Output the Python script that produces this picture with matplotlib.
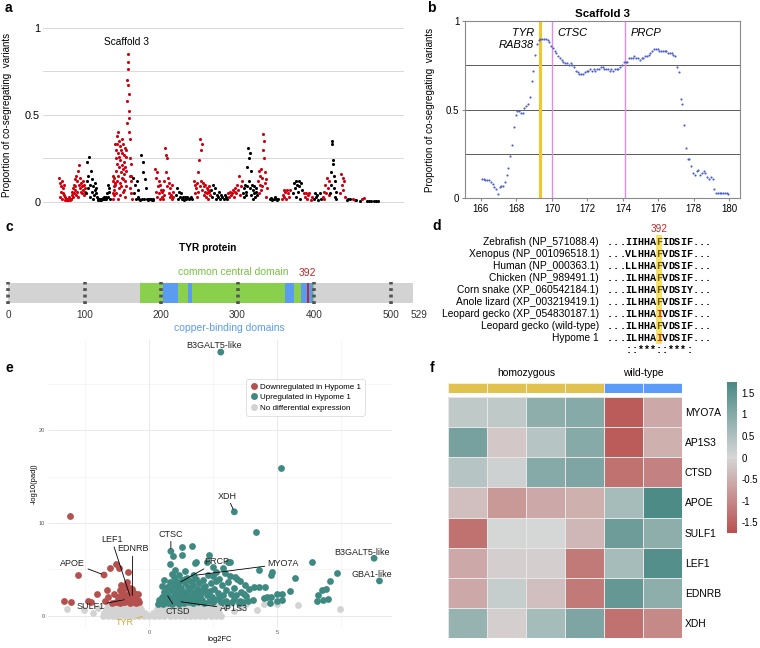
import numpy as np
import matplotlib
matplotlib.use('Agg')
import matplotlib.pyplot as plt
from matplotlib.colors import LinearSegmentedColormap
from matplotlib.lines import Line2D
from matplotlib.patches import Rectangle

plt.rcParams['font.family'] = ['Liberation Sans', 'DejaVu Sans']

W, H = 760, 648
fig = plt.figure(figsize=(7.6, 6.48), dpi=100)


def rect(x0, y0, x1, y1):
    return [x0 / W, 1 - y1 / H, (x1 - x0) / W, (y1 - y0) / H]


# ---------------------------------------------------------------- DATA
# (a) genome-wide scan: scaffold spans (cumulative position) and window values
scaf_start = [178, 258, 338, 400, 465, 528, 583, 633, 685, 730, 775, 810,
              845, 880, 912, 942, 968, 990, 1020, 1040, 1058, 1068, 1085, 1100]
scaf_end = [255, 330, 395, 460, 520, 575, 630, 680, 725, 770, 800, 835,
            870, 905, 935, 962, 988, 1008, 1035, 1050, 1065, 1080, 1092, 1135]
scaf_vals = [
    [0.14, 0.03, 0.11, 0.06, 0.09, 0.02, 0.12, 0.05, 0.08, 0.04, 0.10, 0.01,
     0.03, 0.02, 0.01, 0.02, 0.015, 0.01, 0.02, 0.01, 0.02, 0.03, 0.02, 0.01, 0.02, 0.015,
     0.04, 0.06, 0.03, 0.08, 0.05, 0.10, 0.07, 0.13, 0.09, 0.15, 0.04, 0.06, 0.12, 0.03,
     0.18, 0.10, 0.21, 0.08, 0.14, 0.11, 0.06, 0.09, 0.05, 0.12, 0.07, 0.04, 0.10, 0.06, 0.08],
    [0.05, 0.12, 0.23, 0.08, 0.15, 0.26, 0.03, 0.10, 0.18, 0.06, 0.13, 0.02, 0.09, 0.04, 0.07,
     0.11, 0.05, 0.08, 0.03,
     0.02, 0.01, 0.02, 0.01, 0.015, 0.02, 0.01, 0.02, 0.025, 0.02, 0.03, 0.02, 0.02, 0.03, 0.02,
     0.05, 0.10, 0.03, 0.08, 0.06, 0.02],
    [0.15, 0.05, 0.12, 0.02, 0.09, 0.14, 0.07, 0.04, 0.11,
     0.33, 0.10, 0.25, 0.05, 0.30, 0.18, 0.38, 0.12, 0.22, 0.33, 0.02, 0.28, 0.15, 0.40, 0.08,
     0.20, 0.35, 0.26, 0.11, 0.32, 0.04, 0.24, 0.17, 0.30, 0.09, 0.36, 0.21, 0.14, 0.28, 0.06,
     0.33, 0.19, 0.13, 0.27, 0.07, 0.23, 0.16, 0.31, 0.03, 0.20, 0.12, 0.26, 0.09, 0.18,
     0.30, 0.45, 0.58, 0.70, 0.85, 0.80, 0.76, 0.67, 0.62, 0.52, 0.48, 0.40, 0.36,
     0.25, 0.15, 0.08, 0.22, 0.12, 0.05, 0.15, 0.02],
    [0.14, 0.05, 0.10, 0.02, 0.12, 0.07, 0.03, 0.02, 0.01, 0.27, 0.02, 0.23, 0.17, 0.02, 0.13,
     0.08, 0.02, 0.01, 0.02, 0.02, 0.015, 0.02, 0.01, 0.02, 0.01],
    [0.19, 0.06, 0.14, 0.03, 0.17, 0.09, 0.12, 0.05, 0.10, 0.02, 0.07, 0.03, 0.06, 0.02, 0.07, 0.04,
     0.12, 0.31, 0.17, 0.27, 0.09, 0.25, 0.14, 0.05, 0.11, 0.03, 0.08, 0.04, 0.10, 0.02, 0.06, 0.03],
    [0.04, 0.08, 0.02, 0.06, 0.03, 0.05, 0.02, 0.03, 0.01, 0.03, 0.02, 0.03, 0.02, 0.025, 0.03, 0.02],
    [0.12, 0.05, 0.10, 0.08, 0.03, 0.11, 0.17, 0.06, 0.24, 0.09, 0.36, 0.12, 0.30, 0.33, 0.07,
     0.11, 0.04, 0.09, 0.06, 0.10, 0.03, 0.08, 0.05, 0.07, 0.02, 0.06, 0.09, 0.04],
    [0.07, 0.03, 0.10, 0.05, 0.08, 0.02, 0.04, 0.03, 0.06, 0.02, 0.04, 0.03, 0.02, 0.04, 0.03, 0.02],
    [0.05, 0.03, 0.06, 0.04, 0.05, 0.07, 0.03, 0.06, 0.08, 0.05, 0.10, 0.07, 0.15, 0.04, 0.09, 0.12],
    [0.05, 0.08, 0.03, 0.10, 0.06, 0.04, 0.09, 0.20, 0.31, 0.12, 0.25, 0.28, 0.08, 0.18, 0.04,
     0.10, 0.07, 0.02, 0.05, 0.09, 0.03, 0.06, 0.08, 0.04],
    [0.12, 0.18, 0.05, 0.15, 0.10, 0.19, 0.07, 0.14, 0.09, 0.39, 0.30, 0.35, 0.25, 0.17, 0.11,
     0.13, 0.03, 0.08],
    [0.02, 0.025, 0.01, 0.02, 0.03, 0.02, 0.01, 0.02],
    [0.02, 0.04, 0.07, 0.03, 0.06, 0.02, 0.07, 0.05, 0.03, 0.07],
    [0.05, 0.11, 0.08, 0.12, 0.03, 0.10, 0.06, 0.12, 0.09, 0.02, 0.11, 0.07],
    [0.05, 0.03, 0.05, 0.02, 0.04, 0.05, 0.01, 0.03],
    [0.02, 0.05, 0.03, 0.04, 0.01, 0.05, 0.02],
    [0.03, 0.06, 0.02, 0.10, 0.05, 0.14, 0.08, 0.12, 0.04],
    [0.05, 0.10, 0.17, 0.33, 0.35, 0.24, 0.22, 0.15, 0.08, 0.12, 0.03, 0.06, 0.02],
    [0.05, 0.16, 0.10, 0.14, 0.07, 0.12, 0.03],
    [0.01, 0.02, 0.015],
    [0.02, 0.01],
    [0.01, 0.005],
    [0.02, 0.025],
    [0.005, 0.005, 0.005, 0.005, 0.005, 0.005],
]

# (b) scaffold 3 windows (Mb) and proportion
s3_pos = [166.05, 166.15, 166.25, 166.35, 166.45, 166.55, 166.65, 166.75, 166.85, 166.95,
          167.05, 167.15, 167.25, 167.35, 167.45, 167.55, 167.65, 167.75, 167.85, 167.95,
          168.05, 168.15, 168.25, 168.35, 168.45, 168.55, 168.65, 168.75, 168.85, 168.95,
          169.05, 169.15, 169.25, 169.35, 169.45, 169.55, 169.65, 169.75, 169.85, 169.95,
          170.05, 170.15, 170.25, 170.35, 170.45, 170.55, 170.65, 170.75, 170.85, 170.95,
          171.05, 171.15, 171.25, 171.35, 171.45, 171.55, 171.65, 171.75, 171.85, 171.95,
          172.05, 172.15, 172.25, 172.35, 172.45, 172.55, 172.65, 172.75, 172.85, 172.95,
          173.05, 173.15, 173.25, 173.35, 173.45, 173.55, 173.65, 173.75, 173.85, 173.95,
          174.05, 174.15, 174.25, 174.35, 174.45, 174.55, 174.65, 174.75, 174.85, 174.95,
          175.05, 175.15, 175.25, 175.35, 175.45, 175.55, 175.65, 175.75, 175.85, 175.95,
          176.05, 176.15, 176.25, 176.35, 176.45, 176.55, 176.65, 176.75, 176.85, 176.95,
          177.05, 177.15, 177.25, 177.35, 177.45, 177.55, 177.65, 177.75, 177.85, 177.95,
          178.05, 178.15, 178.25, 178.35, 178.45, 178.55, 178.65, 178.75, 178.85, 178.95,
          179.05, 179.15, 179.25, 179.35, 179.45, 179.55, 179.65, 179.75, 179.85, 179.95]
s3_val = [0.11, 0.11, 0.10, 0.10, 0.10, 0.09, 0.08, 0.06, 0.05, 0.02,
          0.06, 0.07, 0.07, 0.09, 0.13, 0.17, 0.24, 0.30, 0.40, 0.47,
          0.49, 0.49, 0.48, 0.48, 0.51, 0.52, 0.53, 0.57, 0.66, 0.72,
          0.81, 0.87, 0.89, 0.90, 0.90, 0.90, 0.90, 0.89, 0.88, 0.86,
          0.85, 0.83, 0.82, 0.80, 0.79, 0.78, 0.77, 0.76, 0.76, 0.75,
          0.76, 0.75, 0.74, 0.72, 0.71, 0.70, 0.70, 0.70, 0.71, 0.72,
          0.72, 0.73, 0.72, 0.73, 0.72, 0.73, 0.73, 0.74, 0.74, 0.73,
          0.73, 0.73, 0.72, 0.73, 0.72, 0.73, 0.73, 0.73, 0.74, 0.75,
          0.77, 0.77, 0.77, 0.79, 0.79, 0.79, 0.80, 0.79, 0.79, 0.78,
          0.79, 0.79, 0.80, 0.80, 0.81, 0.82, 0.83, 0.84, 0.84, 0.84,
          0.83, 0.83, 0.83, 0.83, 0.83, 0.82, 0.82, 0.82, 0.81, 0.80,
          0.74, 0.71, 0.56, 0.53, 0.41, 0.28, 0.22, 0.22, 0.18, 0.14,
          0.13, 0.15, 0.16, 0.13, 0.14, 0.15, 0.14, 0.12, 0.11, 0.12,
          0.11, 0.05, 0.03, 0.03, 0.03, 0.03, 0.03, 0.03, 0.03, 0.02]
gene_marks = ['TYR\nRAB38', 'CTSC', 'PRCP']
gene_mark_pos = [169.33, 169.99, 174.13]

# (c) TYR protein domains (amino-acid positions)
prot_len = 529
central_domain = (173, 400)
copper_domains = [(203, 222), (235, 240), (362, 374), (383, 399)]
mut_site = 392
prot_ticks = [0, 100, 200, 300, 400, 500]

# (d) alignment
aln_names = ['Zebrafish (NP_571088.4)', 'Xenopus (NP_001096518.1)', 'Human (NP_000363.1)',
             'Chicken (NP_989491.1)', 'Corn snake (XP_060542184.1)',
             'Anole lizard (XP_003219419.1)', 'Leopard gecko (XP_054830187.1)',
             'Leopard gecko (wild-type)', 'Hypome 1']
aln_seqs = ['...IIHHAFIDSIF...', '...VLHHAFVDSIF...', '...LLHHAFVDSIF...',
            '...ILHHAFVDSIF...', '...ILHHAFVDSIY...', '...ILHHAFVDSIF...',
            '...ILHHAIVDSIF...', '...ILHHAFVDSIF...', '...ILHHAIVDSIF...']
aln_consensus = '   ::***::***:'
aln_site_col = 8

# (e) volcano plot
down_fc = [-3.09, -3.32, -3.05, -2.77, -2.37, -2.28, -2.04, -1.66, -1.72, -1.52, -1.29, -1.16,
           -0.81, -1.37, -1.13, -1.03, -0.90, -0.81, -0.68, -0.61, -0.48, -1.27, -0.98, -0.74,
           -1.13, -0.87, -1.30, -1.20, -1.15, -1.05, -1.00, -0.95, -0.90, -0.85, -0.80, -0.75,
           -0.70, -0.65, -0.60, -0.55, -0.50, -0.45, -0.42, -0.38, -1.10, -0.85, -0.75, -1.45,
           -1.60, -0.58]
down_padj = [10.7, 1.6, 1.54, 4.4, 1.6, 1.45, 2.3, 2.8, 1.6, 5.2, 5.6, 5.2,
             4.7, 2.3, 2.8, 2.3, 3.2, 1.9, 2.6, 1.9, 1.5, 1.5, 1.5, 1.5,
             2.1, 2.2, 1.5, 2.0, 1.4, 2.6, 1.5, 2.0, 3.0, 1.6, 2.4, 1.4,
             2.1, 2.9, 1.5, 1.9, 1.4, 1.7, 2.3, 1.5, 3.3, 3.6, 3.0, 1.4,
             2.0, 2.5]
up_fc = [5.16, 4.18, 1.28, 1.28, 1.69, 2.34, 0.92, 1.80, 2.25, 2.50, 2.90, 3.16, 2.60, 3.36,
         6.35, 7.33, 7.07, 5.70, 6.90, 6.75, 6.60, 6.80, 7.00, 6.55, 5.50, 5.18, 5.18, 4.98,
         4.78, 4.60, 4.80, 4.30, 4.53, 4.30, 4.10, 3.90, 3.70, 4.47, 4.07, 3.80, 3.55, 3.30,
         3.00, 2.77, 2.38, 2.12, 2.00, 4.73, 5.00, 3.55, 3.16, 2.75, 2.50, 1.84, 1.41, 1.02,
         0.82, 3.10, 4.75,
         0.35, 0.40, 0.45, 0.50, 0.55, 0.60, 0.62, 0.70, 0.72, 0.75, 0.80, 0.82, 0.85, 0.90,
         0.92, 0.95, 0.98, 1.00, 1.02, 1.05, 1.08, 1.10, 1.12, 1.15, 1.18, 1.20, 1.22, 1.25,
         1.30, 1.32, 1.35, 1.38, 1.40, 1.45, 1.48, 1.50, 1.52, 1.55, 1.60, 1.62, 1.65, 1.70,
         1.72, 1.75, 1.80, 1.85, 1.88, 1.90, 1.95, 2.00, 2.05, 2.10, 2.15, 2.20, 2.25, 2.30,
         2.35, 2.40, 2.45, 2.50, 2.55, 2.60, 2.65, 2.70, 2.80, 2.85, 2.90, 2.95, 3.00, 3.05,
         3.10, 3.20, 3.25, 3.30, 3.40, 3.45, 3.50, 3.60, 3.65, 3.75, 3.85, 0.50, 0.65, 0.78,
         0.60, 0.88, 1.60, 2.00, 1.00, 1.40, 1.90, 2.20, 0.70, 1.15]
up_padj = [15.9, 9.0, 7.4, 6.5, 7.5, 6.5, 6.4, 5.7, 5.8, 5.3, 5.2, 5.8, 4.7, 4.2,
           5.77, 4.66, 3.8, 4.1, 2.9, 2.8, 2.2, 1.7, 1.8, 1.6, 2.7, 2.4, 1.7, 2.4,
           2.0, 2.0, 4.7, 4.9, 3.1, 3.1, 3.1, 2.9, 2.4, 1.9, 1.76, 2.1, 1.6, 1.85,
           1.6, 1.97, 2.7, 3.0, 2.1, 1.43, 1.65, 3.8, 4.3, 4.0, 4.3, 5.8, 4.8, 4.9,
           5.6, 5.8, 4.4,
           1.3, 1.7, 1.5, 2.0, 1.3, 2.6, 1.8, 3.1, 1.4, 2.2, 3.6, 1.6, 2.8, 1.3,
           2.0, 3.3, 4.2, 2.5, 1.5, 3.8, 1.9, 2.9, 3.4, 1.3, 4.4, 2.3, 1.7, 3.0,
           3.9, 2.0, 1.4, 2.6, 3.5, 1.8, 4.1, 2.3, 3.1, 1.5, 2.8, 3.7, 2.0, 1.4,
           3.3, 2.5, 1.8, 4.0, 2.9, 1.5, 3.5, 2.4, 1.7, 3.9, 1.4, 3.2, 2.2, 4.4,
           1.6, 3.5, 2.0, 1.5, 2.9, 3.8, 1.8, 2.5, 1.5, 3.3, 2.2, 4.6, 2.8, 1.4,
           3.6, 2.4, 1.5, 3.0, 2.2, 4.0, 1.4, 2.6, 1.5, 3.3, 1.6, 3.2, 2.1, 1.9,
           3.9, 4.5, 3.0, 2.6, 2.3, 4.0, 1.9, 2.7, 1.9, 2.6]
nd_fc = [-1.8, -1.6, -1.4, -1.2, -1.0, -0.8, -0.6, -0.4, -0.2, 0.0, 0.2, 0.4, 0.6, 0.8, 1.0,
         1.2, 1.4, 1.6, 1.8, 2.0, 2.2, 2.4, 2.6, 2.8,
         -1.75, -1.55, -1.35, -1.15, -0.95, -0.75, -0.55, -0.35, -0.15, 0.15, 0.35, 0.55, 0.75,
         0.95, 1.15, 1.35, 1.55, 1.75, 1.95, 2.15, 2.35, 2.55, 2.75,
         -1.7, -1.5, -1.3, -1.1, -0.9, -0.7, -0.5, -0.3, 0.3, 0.5, 0.7, 0.9, 1.1, 1.3, 1.5,
         1.7, 1.9, 2.1, 2.3, 2.5, 2.7,
         -1.6, -1.4, -1.2, -1.0, -0.8, -0.6, -0.4, 0.45, 0.65, 0.85, 1.05, 1.25, 1.45, 1.65,
         1.85, 2.05, 2.25, 2.45, 2.65,
         -1.4, -1.1, -0.8, 0.6, 0.9, 1.2, 1.5, 1.8, 2.1, 2.4,
         3.0, 3.3, 3.6, 3.8, 4.2, 4.47, 4.98, 5.8, 7.46, -3.2, -2.56, -2.2, -2.0]
nd_padj = [0.0] * 24 + [0.35] * 23 + [0.7] * 21 + [1.05] * 19 + [1.35] * 10 + \
          [0.9, 0.5, 1.0, 1.3, 0.6, 1.25, 1.25, 1.2, 0.7, 0.75, 0.65, 0.3, 0.8]
lab_gene = ['B3GALT5-like', 'XDH', 'CTSC', 'PRCP', 'MYO7A', 'CTSD', 'AP1S3', 'SULF1', 'LEF1',
            'EDNRB', 'APOE', 'TYR', 'B3GALT5-like', 'GBA1-like']
lab_fc = [2.80, 3.33, 0.85, 1.14, 1.75, 0.67, 1.14, -0.87, -0.72, -0.66, -1.76, -0.16, 8.79, 9.00]
lab_padj = [28.4, 11.2, 6.95, 3.5, 4.35, 2.4, 1.55, 1.8, 1.9, 1.9, 4.4, 0.05, 6.2, 3.76]
lab_cls = ['up', 'up', 'up', 'up', 'up', 'up', 'up', 'down', 'down', 'down', 'down', 'nd', 'up', 'up']

# (f) heatmap
hm_genes = ['MYO7A', 'AP1S3', 'CTSD', 'APOE', 'SULF1', 'LEF1', 'EDNRB', 'XDH']
hm_groups = ['homozygous'] * 4 + ['wild-type'] * 2
hm_vals = [[0.3, 0.3, 0.9, 1.0, -1.6, -0.6],
           [1.2, -0.2, 0.4, 1.0, -1.6, -0.5],
           [0.4, 0.1, 1.0, 1.1, -1.3, -1.1],
           [-0.3, -0.8, -0.6, -0.5, 0.6, 1.7],
           [-1.3, 0.0, 0.0, -0.4, 1.3, 0.9],
           [-0.6, -0.1, -0.1, -1.2, 0.6, 1.6],
           [-0.6, 0.2, -0.3, -1.2, 1.4, 0.9],
           [0.8, -0.1, 0.6, 1.1, -1.3, -1.0]]

# ---------------------------------------------------------------- STYLE
RED_A = '#d0000f'
DOWN_C = '#b4504e'
UP_C = '#3f8983'
ND_C = '#d3d3d3'

# overlay for free text (pixel coordinates)
ov = fig.add_axes([0, 0, 1, 1], zorder=10)
ov.set_xlim(0, W)
ov.set_ylim(H, 0)
ov.axis('off')
ov.patch.set_alpha(0)
for lab, (x, y) in zip('abcdef', [(5, 8), (427, 8), (5, 227), (432, 226), (5, 368), (430, 368)]):
    ov.text(x, y, lab, fontsize=10, fontweight='bold', ha='left', va='center')

# ---------------------------------------------------------------- (a)
ax_a = fig.add_axes(rect(43, 27.5, 403, 202))
ax_a.set_xlim(129, 1209)
ax_a.set_ylim(0, 1)
for g in [0, 0.25, 0.5, 0.75, 1.0]:
    ax_a.axhline(g, color='#d9d9d9', lw=0.7, zorder=0, clip_on=False)
peak_x, peak_y = None, -1
for i, (s, e, vals) in enumerate(zip(scaf_start, scaf_end, scaf_vals)):
    pos = np.linspace(s, e, len(vals))
    ax_a.scatter(pos, vals, s=5, c=RED_A if i % 2 == 0 else 'black', lw=0, clip_on=False, zorder=3)
    if max(vals) > peak_y:
        peak_y = max(vals)
        peak_x = pos[int(np.argmax(vals))]
ax_a.text(peak_x - 3, 0.915, 'Scaffold 3', ha='center', va='center', fontsize=7.3)
for sp in ax_a.spines.values():
    sp.set_visible(False)
ax_a.set_xticks([])
ax_a.set_yticks([0, 0.5, 1])
ax_a.set_yticklabels(['0', '0.5', '1'], fontsize=7.8)
ax_a.tick_params(axis='y', length=0, pad=2)
ax_a.set_ylabel('Proportion of co-segregating  variants', fontsize=7.1)
ax_a.yaxis.set_label_coords(-0.085, 0.5)

# ---------------------------------------------------------------- (b)
ax_b = fig.add_axes(rect(465, 21, 740, 198))
ax_b.set_xlim(165.1, 180.6)
ax_b.set_ylim(0, 1)
for g in [0.25, 0.5, 0.75]:
    ax_b.axhline(g, color='#5a5a5a', lw=0.7, zorder=1)
ax_b.axvline(gene_mark_pos[0], color='#f2c72c', lw=2.2, zorder=1)
ax_b.axvline(gene_mark_pos[1], color='#d98fe3', lw=1.0, zorder=1)
ax_b.axvline(gene_mark_pos[2], color='#d98fe3', lw=1.0, zorder=1)
ax_b.scatter(s3_pos, s3_val, s=2.4, c='#4c5fd0', lw=0, zorder=3)
ax_b.text(gene_mark_pos[0] - 0.35, 0.93, 'TYR', style='italic', fontsize=8, ha='right', va='center')
ax_b.text(gene_mark_pos[0] - 0.35, 0.865, 'RAB38', style='italic', fontsize=8, ha='right', va='center')
ax_b.text(gene_mark_pos[1] + 0.3, 0.93, gene_marks[1], style='italic', fontsize=8, ha='left', va='center')
ax_b.text(gene_mark_pos[2] + 0.3, 0.93, gene_marks[2], style='italic', fontsize=8, ha='left', va='center')
for sp in ax_b.spines.values():
    sp.set_color('#8a8a8a')
    sp.set_linewidth(0.8)
ax_b.set_xticks([166, 168, 170, 172, 174, 176, 178, 180])
ax_b.set_yticks([0, 0.5, 1])
ax_b.set_yticklabels(['0', '0.5', '1'])
ax_b.tick_params(labelsize=7, length=2, color='#8a8a8a', pad=2)
ax_b.set_title('Scaffold 3', fontsize=8.2, fontweight='bold', pad=3)
ax_b.set_ylabel('Proportion of co-segregating  variants', fontsize=7.1)
ax_b.yaxis.set_label_coords(-0.109, 0.5)

# ---------------------------------------------------------------- (c)
ax_c = fig.add_axes(rect(8, 283, 412.7, 303))
ax_c.set_xlim(0, prot_len)
ax_c.set_ylim(0, 1)
ax_c.axis('off')
ax_c.barh(0.5, prot_len, left=0, height=1, color='#d3d3d3', lw=0)
ax_c.barh(0.5, central_domain[1] - central_domain[0], left=central_domain[0], height=1,
          color='#8ad04c', lw=0)
for a, b in copper_domains:
    ax_c.barh(0.5, b - a, left=a, height=1, color='#5b9cf3', lw=0)
ax_c.barh(0.5, 3, left=mut_site - 1.5, height=1.05, color='#c0282a', lw=0, zorder=4)
for t in prot_ticks:
    ax_c.plot([t, t], [-0.05, 1.05], color='#555555', lw=2.6, ls=(0, (0.8, 1.0)),
              solid_capstyle='butt', dash_capstyle='butt', clip_on=False, zorder=5)
xt = ax_c.get_xaxis_transform()
for t in prot_ticks:
    ax_c.text(t, -0.62, str(t), transform=xt, ha='center', va='center', fontsize=7.2, color='#333333')
ax_c.annotate(str(prot_len), xy=(prot_len, -0.62), xycoords=xt, xytext=(6, 0),
              textcoords='offset pixels', ha='center', va='center', fontsize=7.2, color='#333333')
ax_c.text(prot_len / 2 - 3, 2.75, 'TYR protein', transform=xt, ha='center', va='center',
          fontsize=7.3, fontweight='bold')
ax_c.text(294, 1.55, 'common central domain', transform=xt, ha='center', va='center',
          fontsize=7.5, color='#78c041')
ax_c.text(mut_site, 1.5, str(mut_site), transform=xt, ha='center', va='center',
          fontsize=7.5, color='#c0282a')
ax_c.text(290, -1.25, 'copper-binding domains', transform=xt, ha='center', va='center',
          fontsize=7.5, color='#5b9cf3')

# ---------------------------------------------------------------- (d)
row0, dy = 242, 12
seq_x0, cw = 607, 6.1
ov.add_patch(Rectangle((seq_x0 + aln_site_col * cw, row0 - 7), cw, dy * (len(aln_names) - 1) + 13,
                       color='#f6e15a', lw=0, alpha=0.9))
ov.text(seq_x0 + (aln_site_col + 0.5) * cw, row0 - 13, str(mut_site), color='#c0282a',
        fontsize=7.2, ha='center', va='center')
for r, (name, seq) in enumerate(zip(aln_names, aln_seqs)):
    y = row0 + r * dy
    ov.text(599, y, name, ha='right', va='center', fontsize=7.4)
    for k, ch in enumerate(seq):
        col = '#cc2a1a' if (k == aln_site_col and ch == 'I') else ('#7a5a10' if k == aln_site_col else 'black')
        ov.text(seq_x0 + (k + 0.5) * cw, y, ch, ha='center', va='center', fontsize=7.3,
                family='Liberation Mono', fontweight='bold', color=col)
yc = row0 + len(aln_names) * dy
for k, ch in enumerate(aln_consensus):
    if ch != ' ':
        ov.text(seq_x0 + (k + 0.5) * cw, yc, ch, ha='center', va='center', fontsize=7.3,
                family='Liberation Mono', fontweight='bold')

# ---------------------------------------------------------------- (e)
ax_e = fig.add_axes(rect(48, 340, 392, 627))
ax_e.set_xlim(-3.95, 9.49)
ax_e.set_ylim(-1.2, 29.7)
for v in [0, 5]:
    ax_e.axvline(v, color='#e6e6e6', lw=0.6, zorder=0)
for v in [-2.5, 2.5, 7.5]:
    ax_e.axvline(v, color='#f0f0f0', lw=0.4, zorder=0)
for v in [0, 10, 20]:
    ax_e.axhline(v, color='#e6e6e6', lw=0.6, zorder=0)
for v in [5, 15, 25]:
    ax_e.axhline(v, color='#f0f0f0', lw=0.4, zorder=0)
ms = 24
ax_e.scatter(nd_fc, nd_padj, s=ms, c=ND_C, lw=0, zorder=2)
ax_e.scatter(down_fc, down_padj, s=ms, c=DOWN_C, lw=0, zorder=3)
ax_e.scatter(up_fc, up_padj, s=ms, c=UP_C, lw=0, zorder=3)
cls_col = {'up': UP_C, 'down': DOWN_C, 'nd': ND_C}
ax_e.scatter(lab_fc, lab_padj, s=ms, c=[cls_col[c] for c in lab_cls], lw=0, zorder=4)
lab_text_pos = [(2.53, 29.1), (3.05, 12.9), (0.85, 8.8), (2.64, 5.84), (5.24, 5.6), (1.1, 0.5),
                (3.3, 0.75), (-2.3, 1.0), (-1.46, 8.2), (-0.64, 7.2), (-2.98, 5.67), (-0.94, -0.7),
                (8.3, 6.8), (8.72, 4.4)]
lab_line = [False, True, True, True, True, True, True, True, True, True, True, True, False, False]
for g, fc, pj, (tx, ty), ln in zip(lab_gene, lab_fc, lab_padj, lab_text_pos, lab_line):
    tcol = '#d9a62a' if g == 'TYR' else '#222222'
    lcol = '#d9a62a' if g == 'TYR' else 'black'
    ap = dict(arrowstyle='-', color=lcol, lw=0.6, shrinkA=0, shrinkB=2) if ln else None
    ax_e.annotate(g, xy=(fc, pj), xytext=(tx, ty), fontsize=6.5, color=tcol, ha='center',
                  va='center', arrowprops=ap, zorder=6, annotation_clip=False)
for sp in ax_e.spines.values():
    sp.set_visible(False)
ax_e.set_xticks([0, 5])
ax_e.set_yticks([0, 10, 20])
ax_e.tick_params(length=0, labelsize=4, labelcolor='#555555', pad=2)
ax_e.set_xlabel('log2FC', fontsize=5.4, labelpad=1)
ax_e.set_ylabel('-log10(padj)', fontsize=5.4, labelpad=1)
handles = [Line2D([], [], ls='', marker='o', ms=5, mfc=DOWN_C, mec='none'),
           Line2D([], [], ls='', marker='o', ms=5, mfc=UP_C, mec='none'),
           Line2D([], [], ls='', marker='o', ms=5, mfc=ND_C, mec='none')]
leg = ax_e.legend(handles, ['Downregulated in Hypome 1', 'Upregulated in Hypome 1',
                            'No differential expression'],
                  loc='upper left', bbox_to_anchor=(246 / W, 1 - 379 / H), bbox_transform=fig.transFigure,
                  fontsize=5.8, frameon=True, handletextpad=0.2, borderpad=0.5, labelspacing=0.35,
                  handlelength=1.0, borderaxespad=0)
leg.get_frame().set_edgecolor('#cccccc')
leg.get_frame().set_linewidth(0.5)
leg.get_frame().set_boxstyle('round,pad=0.0,rounding_size=0.3')

# ---------------------------------------------------------------- (f)
cmap = LinearSegmentedColormap.from_list('rg', ['#b9504f', '#d6d6d6', '#4a8985'])
ax_f = fig.add_axes(rect(448, 397, 682, 638))
arr = np.array(hm_vals)
mesh = ax_f.pcolormesh(arr, cmap=cmap, vmin=-1.75, vmax=1.75, edgecolors='#e6e6e6', linewidth=0.6)
ax_f.set_ylim(len(hm_genes), 0)
ax_f.set_xlim(0, arr.shape[1])
for sp in ax_f.spines.values():
    sp.set_visible(False)
ax_f.set_xticks([])
ax_f.set_yticks(np.arange(len(hm_genes)) + 0.5)
ax_f.set_yticklabels(hm_genes, fontsize=7.4)
ax_f.yaxis.tick_right()
ax_f.tick_params(axis='y', length=0, pad=2)

ax_h = fig.add_axes(rect(448, 383, 682, 393))
grp_col = {'homozygous': '#e2c24f', 'wild-type': '#5a9cf7'}
ax_h.bar(np.arange(len(hm_groups)) + 0.5, 1, width=1, color=[grp_col[g] for g in hm_groups],
         edgecolor='#f0f0f0', lw=0.6)
ax_h.set_xlim(0, len(hm_groups))
ax_h.set_ylim(0, 1)
ax_h.axis('off')
for g in ['homozygous', 'wild-type']:
    idx = [i for i, gg in enumerate(hm_groups) if gg == g]
    ax_h.text(np.mean(idx) + 0.5, 2.0, g, ha='center', va='center', fontsize=7.4)

ax_cb = fig.add_axes(rect(727, 382, 737, 533))
cb = fig.colorbar(mesh, cax=ax_cb)
cb.set_ticks([1.5, 1, 0.5, 0, -0.5, -1, -1.5])
cb.set_ticklabels(['1.5', '1', '0.5', '0', '-0.5', '-1', '-1.5'])
cb.ax.tick_params(length=0, labelsize=6.9, pad=3)
cb.outline.set_visible(False)

fig.savefig('out.png', dpi=100)
